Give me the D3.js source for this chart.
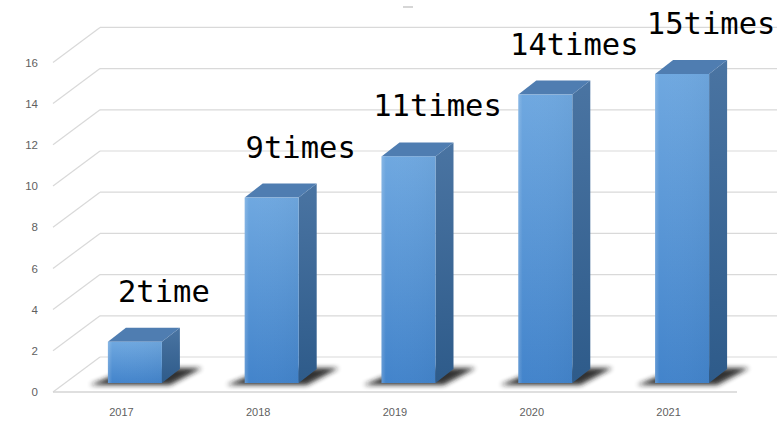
<!DOCTYPE html>
<html><head><meta charset="utf-8">
<script src="https://cdn.jsdelivr.net/npm/d3@7"></script>
<style>html,body{margin:0;padding:0;background:#fff}svg{display:block}</style>
</head><body>
<script>
const categories = ["2017","2018","2019","2020","2021"];
const values = [2, 9, 11, 14, 15];
const valueLabels = ["2time","9times","11times","14times","15times"];
const yTicks = [0,2,4,6,8,10,12,14,16];

const W = 777, H = 421;
const svg = d3.select("body").append("svg").attr("width", W).attr("height", H);
svg.append("rect").attr("width", W).attr("height", H).attr("fill", "#fff");

const x = d3.scaleBand().domain(categories).range([53, 737]).padding(0);
const y = d3.scaleLinear().domain([0, 16]).range([392, 62.4]);

const wallDX = 47, wallDY = -35;
const barShiftX = 13.5, barShiftY = -9;
const barW = 54, bDX = 18, bDY = -14;

const defs = svg.append("defs");
const gF = defs.append("linearGradient").attr("id","gFront").attr("x1",0).attr("y1",0).attr("x2",0).attr("y2",1);
gF.append("stop").attr("offset","0%").attr("stop-color","#6fa8e0");
gF.append("stop").attr("offset","100%").attr("stop-color","#4384cb");
const gH = defs.append("linearGradient").attr("id","gFrontH").attr("x1",0).attr("y1",0).attr("x2",1).attr("y2",0);
gH.append("stop").attr("offset","0%").attr("stop-color","#ffffff").attr("stop-opacity",0.18);
gH.append("stop").attr("offset","8%").attr("stop-color","#ffffff").attr("stop-opacity",0.0);
gH.append("stop").attr("offset","100%").attr("stop-color","#000000").attr("stop-opacity",0.03);
const gS = defs.append("linearGradient").attr("id","gSide").attr("x1",0).attr("y1",0).attr("x2",0).attr("y2",1);
gS.append("stop").attr("offset","0%").attr("stop-color","#4a74a2");
gS.append("stop").attr("offset","100%").attr("stop-color","#2e5b8a");
const blur = defs.append("filter").attr("id","blur").attr("x","-30%").attr("y","-80%").attr("width","160%").attr("height","260%");
blur.append("feGaussianBlur").attr("stdDeviation", 2.6);

const grid = svg.append("g").attr("stroke","#d9d9d9").attr("stroke-width",1.2).attr("fill","none");
yTicks.forEach(t => {
  grid.append("line")
    .attr("x1", x.range()[0] + wallDX).attr("y1", y(t) + wallDY)
    .attr("x2", W).attr("y2", y(t) + wallDY);
  grid.append("line")
    .attr("x1", x.range()[0]).attr("y1", y(t))
    .attr("x2", x.range()[0] + wallDX).attr("y2", y(t) + wallDY);
});
svg.append("line").attr("x1", x.range()[0]).attr("x2", x.range()[1])
  .attr("y1", y(0)).attr("y2", y(0)).attr("stroke","#d4d4d4").attr("stroke-width",1.6);

const bars = svg.append("g");
categories.forEach((c, i) => {
  const v = values[i];
  const x0 = x(c) + x.bandwidth()/2 - barW/2 + barShiftX;
  const x1 = x0 + barW;
  const yb = y(0) + barShiftY;
  const yt = y(v) + barShiftY;
  // shadow
  bars.append("path")
    .attr("d", `M${x0-18},${yb+2} L${x1+8},${yb+2} L${x1+bDX+22},${yb+bDY-1} L${x0+bDX+6},${yb+bDY-1} Z`)
    .attr("fill","#1a1a1a").attr("opacity",0.9).attr("filter","url(#blur)");
  bars.append("path")
    .attr("d", `M${x1},${yb} L${x1+bDX},${yb+bDY} L${x1+bDX},${yt+bDY} L${x1},${yt} Z`)
    .attr("fill","url(#gSide)");
  bars.append("path")
    .attr("d", `M${x0},${yt} L${x0+bDX},${yt+bDY} L${x1+bDX},${yt+bDY} L${x1},${yt} Z`)
    .attr("fill","#4f7db1");
  bars.append("rect").attr("x", x0).attr("y", yt).attr("width", barW).attr("height", yb - yt)
    .attr("fill","url(#gFront)");
  bars.append("rect").attr("x", x0).attr("y", yt).attr("width", barW).attr("height", yb - yt)
    .attr("fill","url(#gFrontH)");
  svg.append("text")
    .attr("x", x0 + barW/2 + 29).attr("y", yt - 40)
    .attr("text-anchor","middle")
    .attr("font-family","'DejaVu Sans Mono', monospace")
    .attr("font-size", 30.5).attr("fill","#000")
    .text(valueLabels[i]);
});

svg.append("g").selectAll("text").data(yTicks).join("text")
  .attr("x", 38).attr("y", d => y(d)).attr("dy","0.36em")
  .attr("text-anchor","end").attr("font-family","'Liberation Sans', Arial, sans-serif")
  .attr("font-size", 11.5).attr("fill","#5f5f5f").text(d => d);

svg.append("g").selectAll("text").data(categories).join("text")
  .attr("x", d => x(d) + x.bandwidth()/2).attr("y", 416)
  .attr("text-anchor","middle").attr("font-family","'Liberation Sans', Arial, sans-serif")
  .attr("font-size", 11).attr("fill","#5f5f5f").text(d => d);

svg.append("line").attr("x1",403).attr("x2",413).attr("y1",7).attr("y2",7)
  .attr("stroke","#c8c8c8").attr("stroke-width",1.5);
</script>
</body></html>
